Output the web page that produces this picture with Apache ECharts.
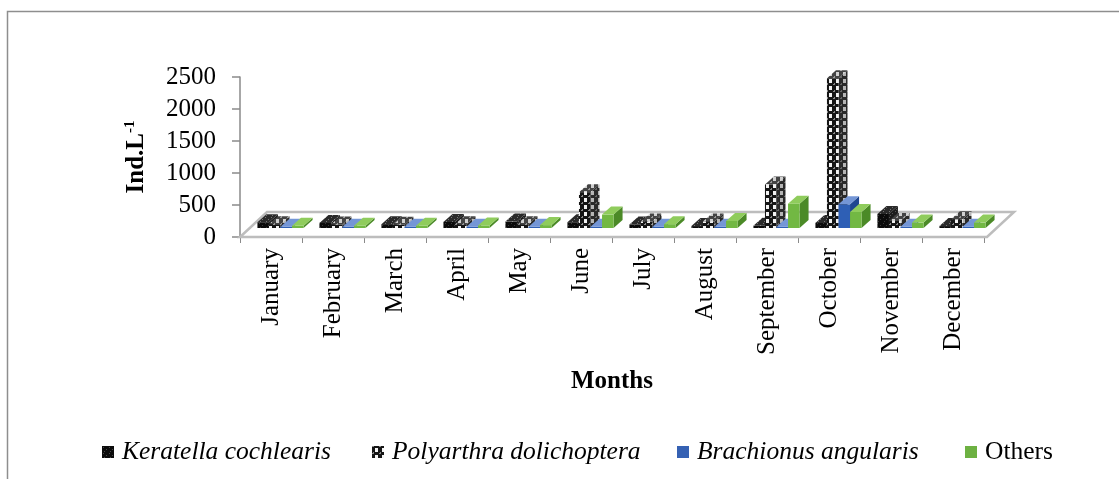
<!DOCTYPE html>
<html>
<head>
<meta charset="utf-8">
<script src="https://cdn.jsdelivr.net/npm/echarts@6/dist/echarts.min.js"></script>
<style>
  html, body { margin: 0; padding: 0; background: #fff; }
  #chart { width: 1119px; height: 479px; }
</style>
</head>
<body>
<div id="chart"></div>
<script>
// Monthly rotifer densities (ind. per litre)
const months = ['January', 'February', 'March', 'April', 'May', 'June',
                'July', 'August', 'September', 'October', 'November', 'December'];
const keratella  = [90, 80, 60, 95, 100, 90, 55, 30, 35, 80, 220, 30];
const polyarthra = [60, 55, 50, 60, 60, 560, 100, 100, 680, 2340, 110, 135];
const brachionus = [20, 20, 20, 20, 20, 20, 20, 20, 20, 370, 20, 20];
const others     = [35, 35, 35, 40, 45, 210, 60, 110, 380, 250, 85, 85];
const seriesNames = ['Keratella cochlearis', 'Polyarthra dolichoptera', 'Brachionus angularis', 'Others'];
const valueMax = 2500;
const valueStep = 500;

const FONT = '"Liberation Serif", "Times New Roman", serif';

// ---- fill textures -------------------------------------------------------
function makeTile(size, draw) {
  const c = document.createElement('canvas');
  c.width = size; c.height = size;
  draw(c.getContext('2d'));
  return { image: c, repeat: 'repeat' };
}
const speckle = (base, dot) => makeTile(6, g => {
  g.fillStyle = base; g.fillRect(0, 0, 6, 6);
  g.fillStyle = dot; g.fillRect(1, 1, 1, 1); g.fillRect(4, 3, 1, 1); g.fillRect(2, 5, 1, 1);
});
const checker = (base, cell, dot) => makeTile(7, g => {
  g.fillStyle = base; g.fillRect(0, 0, 7, 7);
  g.fillStyle = cell; g.fillRect(3, 2, 3, 4);
  g.fillStyle = dot; g.fillRect(0, 0, 2, 1); g.fillRect(1, 6, 1, 1);
});

const faces = [
  { front: speckle('#0b0b0b', '#3a3a3a'), side: speckle('#1c1c1c', '#555'), top: speckle('#2a2a2a', '#777') },
  { front: checker('#151515', '#f2f2f2', '#8a8a8a'), side: checker('#2a2a2a', '#b5b5b5', '#666'), top: checker('#444', '#d0d0d0', '#999') },
  { front: '#2e5fb5', side: '#1f4690', top: '#7496d6' },
  { front: '#72b843', side: '#4b8a27', top: '#8fcc5c' }
];
const legendFills = [
  speckle('#0b0b0b', '#4a4a4a'),
  checker('#151515', '#f4f4f4', '#8a8a8a'),
  '#3561b3',
  '#6db142'
];

// ---- pseudo-3D geometry ---------------------------------------------------
const BAR_FRAC = 0.186;            // bar front width as share of a category
const SHIFT_X = 9.5, SHIFT_Y = -9; // bars stand part-way back on the floor
const DEPTH_X = 9, DEPTH_Y = 8;    // bar depth projection
const FLOOR_X = 27, FLOOR_Y = 25;  // floor depth projection

function barRenderer(slot) {
  const f = faces[slot];
  return function (params, api) {
    const i = api.value(0);
    const v = api.value(1);
    const base = api.coord([i, 0]);
    const top = api.coord([i, v]);
    const bw = api.size([1, 0])[0] * BAR_FRAC;
    const x0 = base[0] - 2 * bw + slot * bw + SHIFT_X;
    const yb = base[1] + SHIFT_Y;
    const yt = top[1] + SHIFT_Y;
    return {
      type: 'group',
      children: [
        { type: 'polygon', shape: { points: [[x0 + bw, yt], [x0 + bw + DEPTH_X, yt - DEPTH_Y], [x0 + bw + DEPTH_X, yb - DEPTH_Y], [x0 + bw, yb]] }, style: { fill: f.side } },
        { type: 'rect', shape: { x: x0, y: yt, width: bw, height: yb - yt }, style: { fill: f.front } },
        { type: 'polygon', shape: { points: [[x0, yt], [x0 + bw, yt], [x0 + bw + DEPTH_X, yt - DEPTH_Y], [x0 + DEPTH_X, yt - DEPTH_Y]] }, style: { fill: f.top } }
      ]
    };
  };
}

function floorRenderer(params) {
  const cs = params.coordSys;
  const yb = cs.y + cs.height;
  const xl = cs.x, xr = cs.x + cs.width + 3;
  return {
    type: 'polygon',
    shape: { points: [[xl, yb], [xr, yb], [xr + FLOOR_X, yb - FLOOR_Y], [xl + FLOOR_X, yb - FLOOR_Y]] },
    style: { fill: '#ffffff', stroke: '#bdbdbd', lineWidth: 2.5 }
  };
}

const seriesData = [keratella, polyarthra, brachionus, others];

const chart = echarts.init(document.getElementById('chart'), null, { renderer: 'canvas' });
chart.setOption({
  animation: false,
  backgroundColor: '#ffffff',
  graphic: [{
    type: 'rect',
    shape: { x: 7.5, y: 11.5, width: 1200, height: 600 },
    style: { fill: 'none', stroke: '#8e8e8e', lineWidth: 1.5 },
    silent: true
  }],
  grid: { left: 240, right: 135, top: 77, bottom: 242 },
  xAxis: {
    type: 'category',
    data: months,
    name: 'Months',
    nameLocation: 'middle',
    nameGap: 132,
    nameTextStyle: { fontFamily: FONT, fontSize: 25, fontWeight: 'bold', color: '#000' },
    axisLine: { show: false },
    axisTick: { show: true, length: 6, lineStyle: { color: '#8a8a8a', width: 1 } },
    axisLabel: { rotate: 90, margin: 11, fontFamily: FONT, fontSize: 25, color: '#000' },
    splitLine: { show: false }
  },
  yAxis: {
    type: 'value',
    min: 0,
    max: valueMax,
    interval: valueStep,
    name: '{a|Ind.L}{b|-1}',
    nameLocation: 'middle',
    nameGap: 89,
    nameRotate: 90,
    nameTextStyle: {
      rich: {
        a: { fontFamily: FONT, fontSize: 25, fontWeight: 'bold', color: '#000', lineHeight: 28 },
        b: { fontFamily: FONT, fontSize: 15, fontWeight: 'bold', color: '#000', verticalAlign: 'top', lineHeight: 28 }
      }
    },
    axisLine: { show: true, lineStyle: { color: '#8a8a8a', width: 1.5 } },
    axisTick: { show: true, length: 8, lineStyle: { color: '#8a8a8a', width: 1.5 } },
    axisLabel: { margin: 24, fontFamily: FONT, fontSize: 25, color: '#000', formatter: v => String(v) },
    splitLine: { show: false }
  },
  legend: seriesNames.map((n, k) => ({
    data: [{ name: n, itemStyle: { color: legendFills[k] } }],
    left: [102, 372, 677, 965][k],
    top: 439,
    padding: 0,
    icon: 'rect',
    itemWidth: 12,
    itemHeight: 12,
    selectedMode: false,
    textStyle: {
      fontFamily: FONT, fontSize: 25.5, color: '#000',
      fontStyle: k < 3 ? 'italic' : 'normal',
      padding: [0, 0, 0, 3]
    }
  })),
  series: [
    {
      type: 'custom',
      name: 'floor',
      silent: true,
      renderItem: floorRenderer,
      data: [[0, 0]],
      encode: { x: 0, y: 1 }
    }
  ].concat(seriesData.map((vals, k) => ({
    type: 'custom',
    name: seriesNames[k],
    itemStyle: { color: legendFills[k] },
    renderItem: barRenderer(k),
    data: vals.map((v, i) => [i, v]),
    encode: { x: 0, y: 1 }
  })))
});
</script>
</body>
</html>
